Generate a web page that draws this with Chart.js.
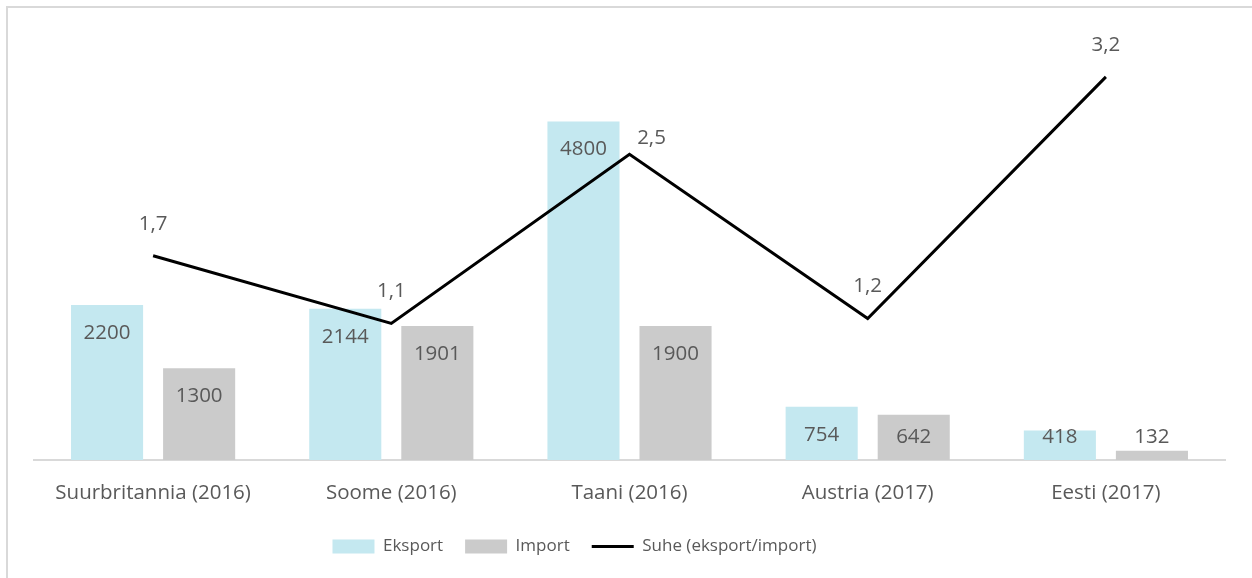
<!DOCTYPE html>
<html>
<head>
<meta charset="utf-8">
<script src="https://cdn.jsdelivr.net/npm/chart.js@4"></script>
<style>
  html, body { margin: 0; padding: 0; background: #fff; }
  #wrap { position: relative; width: 1252px; height: 578px; overflow: hidden; }
  #frame { position: absolute; left: 6px; top: 6px; width: 1300px; height: 600px;
           border-top: 2px solid #d9d9d9; border-left: 2px solid #d9d9d9; }
  canvas { position: absolute; left: 0; top: 0; }
</style>
</head>
<body>
<div id="wrap">
  <div id="frame"></div>
  <canvas id="chart" width="1252" height="578"></canvas>
</div>
<script>
// Andmed
const riigid = ['Suurbritannia (2016)', 'Soome (2016)', 'Taani (2016)', 'Austria (2017)', 'Eesti (2017)'];
const eksport = [2200, 2144, 4800, 754, 418];
const importVal = [1300, 1901, 1900, 642, 132];
const suhe = [1.69, 1.13, 2.53, 1.17, 3.17];

const tekstiVarv = '#595959';
const font = '"Open Sans", "Noto Sans", sans-serif';

// Väärtuste sildid tulpade ja joone juures
const siltidePlugin = {
    id: 'sildid',
    afterDatasetsDraw(chart) {
        const ctx = chart.ctx;
        const base = chart.scales.y.getPixelForValue(0);
        ctx.save();
        ctx.fillStyle = tekstiVarv;
        ctx.textAlign = 'center';
        ctx.textBaseline = 'middle';
        chart.data.datasets.forEach((ds, i) => {
            const meta = chart.getDatasetMeta(i);
            meta.data.forEach((el, j) => {
                const v = ds.data[j];
                ctx.font = '20.5px ' + font;
                if (ds.type === 'line') {
                    let dx = 0, dy = -32;
                    if (j === 2) { dx = 22; dy = -16; }
                    ctx.fillText(v.toFixed(1).replace('.', ','), el.x + dx, el.y + dy);
                } else {
                    const y = Math.min(el.y + 28, base - 23);
                    ctx.fillText(String(v), el.x, y);
                }
            });
        });
        ctx.restore();
    }
};

// Legend on originaalis veidi vasakule nihutatud
const legendiNihe = {
    id: 'legendiNihe',
    afterLayout(chart) {
        chart.legend.left -= 55;
        chart.legend.right -= 55;
    }
};

const ctx = document.getElementById('chart').getContext('2d');
new Chart(ctx, {
    data: {
        labels: riigid,
        datasets: [{
            type: 'line',
            label: 'Suhe (eksport/import)',
            data: suhe,
            yAxisID: 'y2',
            borderColor: '#000000',
            backgroundColor: '#000000',
            borderWidth: 3,
            pointRadius: 0,
            tension: 0,
            order: 0
        }, {
            type: 'bar',
            label: 'Eksport',
            data: eksport,
            yAxisID: 'y',
            backgroundColor: '#c4e8f0',
            categoryPercentage: 0.773,
            barPercentage: 0.783,
            order: 1
        }, {
            type: 'bar',
            label: 'Import',
            data: importVal,
            yAxisID: 'y',
            backgroundColor: '#cbcbcb',
            categoryPercentage: 0.773,
            barPercentage: 0.783,
            order: 2
        }]
    },
    options: {
        responsive: false,
        animation: false,
        layout: { padding: { left: 34, right: 27, top: 37, bottom: 13 } },
        plugins: {
            tooltip: { enabled: false },
            legend: {
                position: 'bottom',
                labels: {
                    color: tekstiVarv,
                    font: { family: font, size: 17 },
                    usePointStyle: true,
                    pointStyleWidth: 42,
                    boxHeight: 14,
                    padding: 22,
                    generateLabels(chart) {
                        const items = Chart.defaults.plugins.legend.labels.generateLabels(chart);
                        items.forEach(it => {
                            const ds = chart.data.datasets[it.datasetIndex];
                            if (ds.type === 'line') {
                                it.pointStyle = 'line';
                                it.lineWidth = 3;
                                it.strokeStyle = '#000000';
                            } else {
                                it.pointStyle = 'rect';
                                it.lineWidth = 0;
                            }
                        });
                        // järjekord: Eksport, Import, Suhe
                        return [items[1], items[2], items[0]];
                    }
                }
            }
        },
        scales: {
            x: {
                grid: { display: false },
                border: { display: true, color: '#d9d9d9', width: 2 },
                ticks: { color: tekstiVarv, font: { family: font, size: 20.5 }, padding: 13, maxRotation: 0 },
                afterFit(scale) { scale.height = 56; }
            },
            y: {
                display: false,
                min: 0,
                max: 6000
            },
            y2: {
                display: false,
                position: 'right',
                min: 0,
                max: 3.5
            }
        }
    },
    plugins: [siltidePlugin, legendiNihe]
});
</script>
</body>
</html>
